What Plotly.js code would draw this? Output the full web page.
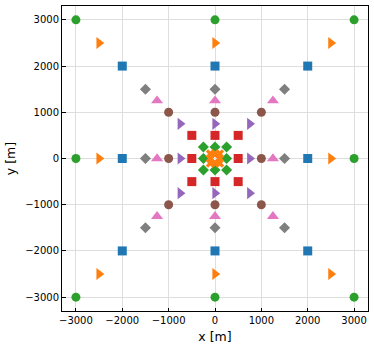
<!DOCTYPE html>
<html><head><meta charset="utf-8">
<script src="https://cdn.plot.ly/plotly-3.0.1.min.js"></script>
<style>html,body{margin:0;padding:0;background:#fff}#c{width:374px;height:350px}</style>
</head><body><div id="c"></div>
<script>
// Series values (x, y in metres)
const blueSqX = [-2000, 0, 2000, -2000, 2000, -2000, 0, 2000];
const blueSqY = [2000, 2000, 2000, 0, 0, -2000, -2000, -2000];
const orangeTriX = [-2500, 0, 2500, -2500, 2500, -2500, 0, 2500];
const orangeTriY = [2500, 2500, 2500, 0, 0, -2500, -2500, -2500];
const greenCircX = [-3000, 0, 3000, -3000, 3000, -3000, 0, 3000];
const greenCircY = [3000, 3000, 3000, 0, 0, -3000, -3000, -3000];
const redSqX = [-500, 0, 500, -500, 500, -500, 0, 500];
const redSqY = [500, 500, 500, 0, 0, -500, -500, -500];
const purpleTriX = [-750, 0, 750, -750, 750, -750, 0, 750];
const purpleTriY = [750, 750, 750, 0, 0, -750, -750, -750];
const brownCircX = [-1000, 0, 1000, -1000, 1000, -1000, 0, 1000];
const brownCircY = [1000, 1000, 1000, 0, 0, -1000, -1000, -1000];
const pinkTriX = [-1250, 0, 1250, -1250, 1250, -1250, 0, 1250];
const pinkTriY = [1250, 1250, 1250, 0, 0, -1250, -1250, -1250];
const grayDiaX = [-1500, 0, 1500, -1500, 1500, -1500, 0, 1500];
const grayDiaY = [1500, 1500, 1500, 0, 0, -1500, -1500, -1500];
const greenDiaX = [-250, 0, 250, -250, 250, -250, 0, 250];
const greenDiaY = [250, 250, 250, 0, 0, -250, -250, -250];
const orangeXX = [-100, 0, 100, -100, 100, -100, 0, 100];
const orangeXY = [100, 100, 100, 0, 0, -100, -100, -100];
const tickVals = [-3000, -2000, -1000, 0, 1000, 2000, 3000];
const tickText = ['\u22123000', '\u22122000', '\u22121000', '0', '1000', '2000', '3000'];

function tr(x, y, color, symbol, size) {
  return {x: x, y: y, type: 'scatter', mode: 'markers', hoverinfo: 'none',
    marker: {color: color, symbol: symbol, size: size, line: {width: 0}}};
}
const data = [
  tr(blueSqX, blueSqY, '#1f77b4', 'square', 9),
  tr(orangeTriX, orangeTriY, '#ff7f0e', 'triangle-right', 10.5),
  tr(greenCircX, greenCircY, '#2ca02c', 'circle', 9),
  tr(redSqX, redSqY, '#d62728', 'square', 9),
  tr(purpleTriX, purpleTriY, '#9467bd', 'triangle-right', 10.5),
  tr(brownCircX, brownCircY, '#8c564b', 'circle', 9),
  tr(pinkTriX, pinkTriY, '#e377c2', 'triangle-up', 10.5),
  tr(grayDiaX, grayDiaY, '#7f7f7f', 'diamond', 8.5),
  tr(greenDiaX, greenDiaY, '#2ca02c', 'diamond', 8.5),
  tr(orangeXX, orangeXY, '#ff7f0e', 'x', 8)
];
const axisCommon = {
  range: [-3300, 3300], tickmode: 'array', tickvals: tickVals, ticktext: tickText,
  ticks: 'inside', ticklen: 3.5, tickwidth: 1, tickcolor: '#000',
  showline: true, linecolor: '#000', linewidth: 1, mirror: true,
  showgrid: true, gridcolor: '#dedede', gridwidth: 1, zeroline: false,
  tickfont: {family: 'DejaVu Sans', size: 10, color: '#000'}
};
const layout = {
  width: 374, height: 350,
  margin: {l: 62, r: 6, t: 6, b: 39},
  paper_bgcolor: '#fff', plot_bgcolor: '#fff',
  showlegend: false,
  xaxis: Object.assign({}, axisCommon, {
    title: {text: 'x [m]', font: {family: 'DejaVu Sans', size: 12.5, color: '#000'}, standoff: 7}
  }),
  yaxis: Object.assign({}, axisCommon, {
    title: {text: 'y [m]', font: {family: 'DejaVu Sans', size: 12.5, color: '#000'}, standoff: 6}
  })
};
Plotly.newPlot('c', data, layout, {staticPlot: true, displayModeBar: false});
</script></body></html>
